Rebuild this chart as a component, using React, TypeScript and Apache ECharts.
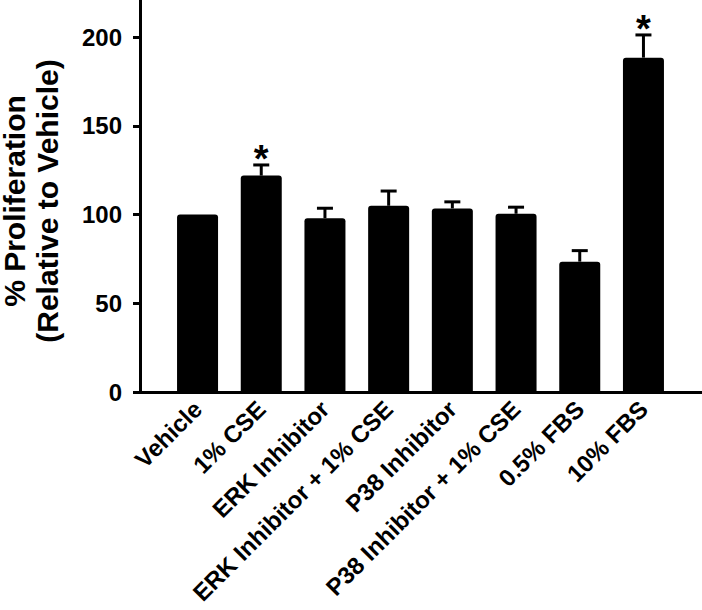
import React, { useEffect, useRef } from "react";
import * as echarts from "echarts";

const categories = [
  "Vehicle",
  "1% CSE",
  "ERK Inhibitor",
  "ERK Inhibitor + 1% CSE",
  "P38 Inhibitor",
  "P38 Inhibitor + 1% CSE",
  "0.5% FBS",
  "10% FBS",
];
const means = [100, 122, 98, 105, 103.5, 100.5, 73.5, 188.5];
const errors = [0, 6, 5.6, 8.3, 3.7, 3.7, 6.2, 12.8];
const significant = [false, true, false, false, false, false, false, true];
const yTicks = [0, 50, 100, 150, 200];
const yMax = 221;

const FONT = "'Liberation Sans', Arial, Helvetica, sans-serif";

export default function App() {
  const ref = useRef<HTMLDivElement>(null);
  useEffect(() => {
    if (!ref.current) return;
    const chart = echarts.init(ref.current, null, { renderer: "svg" });
    const errData = categories.map((c, i) => [i, means[i], errors[i], significant[i] ? 1 : 0]);
    chart.setOption({
      animation: false,
      backgroundColor: "#ffffff",
      grid: [
        { left: 140, right: 0, top: 0, bottom: 218, outerBoundsMode: "none", containLabel: false },
        { left: 165.7, right: 26.7, top: 0, bottom: 218, outerBoundsMode: "none", containLabel: false },
      ],
      xAxis: [
        {
          type: "value",
          gridIndex: 0,
          min: 0,
          max: 1,
          axisLine: { show: true, onZero: false, lineStyle: { color: "#000", width: 3 } },
          axisTick: { show: false },
          axisLabel: { show: false },
          splitLine: { show: false },
        },
        {
          type: "category",
          gridIndex: 1,
          data: categories,
          axisLine: { show: false },
          axisTick: { show: false },
          axisLabel: {
            rotate: 45,
            margin: 13,
            color: "#000",
            fontSize: 24,
            fontWeight: "bold",
            fontFamily: FONT,
            interval: 0,
          },
        },
      ],
      yAxis: [
        {
          type: "value",
          gridIndex: 0,
          min: 0,
          max: yMax,
          interval: 50,
          axisLine: { show: true, lineStyle: { color: "#000", width: 3 } },
          axisTick: {
            show: true,
            length: 7,
            customValues: yTicks,
            lineStyle: { color: "#000", width: 3 },
          },
          axisLabel: {
            showMaxLabel: false,
            formatter: (v: number) => (yTicks.indexOf(v) >= 0 ? String(v) : ""),
            margin: 18,
            color: "#000",
            fontSize: 24,
            fontWeight: "bold",
            fontFamily: FONT,
          },
          splitLine: { show: false },
          name: "% Proliferation\n(Relative to Vehicle)",
          nameLocation: "middle",
          nameGap: 76,
          nameMoveOverlap: false,
          nameTextStyle: {
            color: "#000",
            fontSize: 30,
            fontWeight: "bold",
            fontFamily: FONT,
            lineHeight: 33,
            padding: [0, 10, 0, 0],
          },
        },
        {
          type: "value",
          gridIndex: 1,
          min: 0,
          max: yMax,
          show: false,
        },
      ],
      series: [
        {
          type: "bar",
          xAxisIndex: 1,
          yAxisIndex: 1,
          data: means,
          barWidth: 41,
          itemStyle: { color: "#000", borderRadius: [3, 3, 0, 0] },
        },
        {
          type: "custom",
          xAxisIndex: 1,
          yAxisIndex: 1,
          data: errData,
          encode: { x: 0, y: 1 },
          z: 3,
          renderItem: (params: any, api: any) => {
            const i = api.value(0);
            const v = api.value(1);
            const e = api.value(2);
            const s = api.value(3);
            const base = api.coord([i, v]);
            const top = api.coord([i, v + e]);
            const children: any[] = [];
            const ls = { stroke: "#000", lineWidth: 3 };
            if (e > 0) {
              children.push({
                type: "line",
                shape: { x1: top[0], y1: base[1], x2: top[0], y2: top[1] },
                style: ls,
              });
              children.push({
                type: "line",
                shape: { x1: top[0] - 8, y1: top[1], x2: top[0] + 8, y2: top[1] },
                style: ls,
              });
            }
            if (s) {
              children.push({
                type: "text",
                style: {
                  text: "*",
                  x: top[0],
                  y: top[1] - 6,
                  fill: "#000",
                  font: "bold 38px " + FONT,
                  align: "center",
                  verticalAlign: "middle",
                },
              });
            }
            return { type: "group", children };
          },
        },
      ],
    });
    return () => chart.dispose();
  }, []);
  return (
    <div
      ref={ref}
      style={{ position: "fixed", left: 0, top: 0, width: 702, height: 610 }}
    />
  );
}
